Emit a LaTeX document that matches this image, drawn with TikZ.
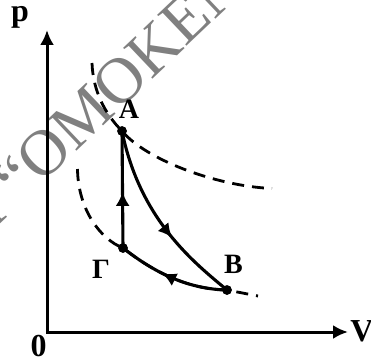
\documentclass[tikz,border=0pt]{standalone}
\usepackage{fontspec}
\setmainfont{Liberation Serif}
\usetikzlibrary{arrows.meta,decorations.markings}
\begin{document}
\begin{tikzpicture}[x=1pt,y=1pt,
  axis/.style={line width=3pt,line join=miter,{Latex[length=15pt,width=14pt]}-{Latex[length=15pt,width=14pt]}},
  curve/.style={line width=3.1pt},
  iso/.style={line width=2.8pt,dash pattern=on 12pt off 8pt},
  dot/.style={circle,fill=black,inner sep=0pt,minimum size=9.5pt},
  plabel/.style={font=\fontsize{28}{28}\selectfont\bfseries,inner sep=0pt},
  alabel/.style={font=\fontsize{32}{32}\selectfont\bfseries,inner sep=0pt},
  wmark/.style={font=\fontsize{65}{65}\selectfont,inner sep=0pt,text=black!50},
  midarrow/.style={postaction={decorate},decoration={markings,mark=at position #1 with {\arrow{Latex[length=14pt,width=14pt]}}}},
]
\useasboundingbox (0,0) rectangle (371,359);
\begin{scope}
\clip (0,0) rectangle (371,359);
\node[wmark,rotate=43.5,anchor=mid west] (wm) at (40,176) {\llap{Ι “}ΟΜΟΚΕΝ};
\end{scope}
% axes
\coordinate (O) at (47,27);
\coordinate (Ytip) at (47,329);
\coordinate (Xtip) at (348,27);
\draw[axis] (Ytip) -- (O) -- (Xtip);
\node[alabel] (p) at (20,341.5) {p};
\node[alabel] (V) at (362,27.5) {V};
\node[alabel] (zero) at (38.5,13) {0};
% states
\node[dot] (A) at (122,228) {};
\node[dot] (G) at (123,111) {};
\node[dot] (B) at (227,69) {};
\node[plabel] (lA) at (129,250) {A};
\node[plabel] (lB) at (233.5,95) {B};
\node[plabel] (lG) at (101,89.5) {Γ};
% isotherms
\coordinate (u1) at (92,296);
\coordinate (u2) at (272,170.5);
\coordinate (l1) at (77.5,190);
\coordinate (l2) at (258,63);
\draw[iso] (u1) .. controls (93,268) and (105,245) .. (A.center)
  .. controls (145,200) and (215,173) .. (u2);
\draw[iso] (l1) .. controls (78,150) and (100,120) .. (G.center)
  .. controls (145,94) and (180,70) .. (B.center) -- (l2);
% cycle
\draw[curve,midarrow=0.48] (G.center) -- (A.center);
\draw[curve,midarrow=0.61] (A.center) .. controls (140,138) and (196,95) .. (B.center);
\draw[curve,midarrow=0.59] (B.center) .. controls (180,70) and (145,94) .. (G.center);
\node[dot] at (A) {};
\node[dot] at (G) {};
\node[dot] at (B) {};
\end{tikzpicture}
\end{document}
